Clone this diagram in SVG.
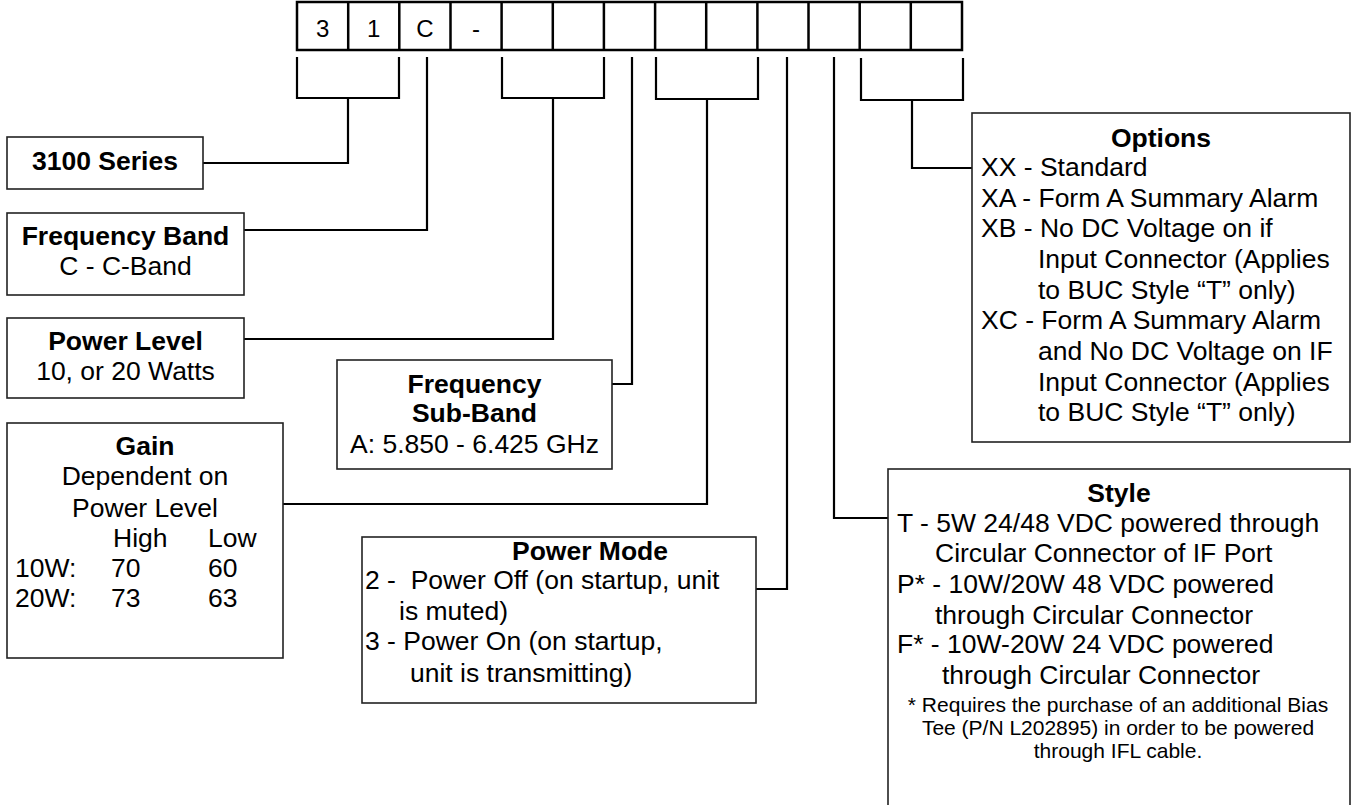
<svg xmlns="http://www.w3.org/2000/svg" width="1353" height="805" viewBox="0 0 1353 805">
<style>
text{font-family:"Liberation Sans",Arial,sans-serif;font-size:26.5px;fill:#000}
.b{font-weight:bold}
.c{text-anchor:middle}
.cell{font-size:24px;text-anchor:middle}
.fn{font-size:21px;text-anchor:middle}
.box{fill:#fff;stroke:#222;stroke-width:1.6}
.cells{fill:none;stroke:#000;stroke-width:2.5}
.con path{fill:none;stroke:#000;stroke-width:2.2}
</style>
<rect width="1353" height="805" fill="#fff"/>
<g id="code">
<rect class="cells" x="297" y="2" width="665" height="48"/>
<path class="cells" d="M348.2,2V50M399.3,2V50M450.5,2V50M501.6,2V50M552.8,2V50M603.9,2V50M655.1,2V50M706.2,2V50M757.4,2V50M808.5,2V50M859.7,2V50M910.8,2V50"/>
<text class="cell" x="322.6" y="37">3</text>
<text class="cell" x="373.7" y="37">1</text>
<text class="cell" x="424.9" y="37">C</text>
<text class="cell" x="476" y="37">-</text>
</g>
<g class="con" id="connectors">
<path d="M297,57V98H399V57M348,98V163H203"/>
<path d="M427,57V230H244"/>
<path d="M502,57V98H604V57M553,98V339H244"/>
<path d="M632,57V384H612"/>
<path d="M656,57V99H758V57M707,99V504H283"/>
<path d="M787,57V589H756"/>
<path d="M834,57V518H888"/>
<path d="M861,58V100H963V58M912,100V168H972"/>
</g>
<g id="series">
<rect class="box" x="7" y="137" width="196" height="52"/>
<text class="b c" x="105" y="170">3100 Series</text>
</g>
<g id="band">
<rect class="box" x="7" y="213" width="237" height="82"/>
<text class="b c" x="125.5" y="245">Frequency Band</text>
<text class="c" x="125.5" y="275">C - C-Band</text>
</g>
<g id="power-level">
<rect class="box" x="7" y="318" width="237" height="80"/>
<text class="b c" x="125.5" y="350">Power Level</text>
<text class="c" x="125.5" y="380">10, or 20 Watts</text>
</g>
<g id="gain">
<rect class="box" x="7" y="423" width="276" height="235"/>
<text class="b c" x="145" y="455">Gain</text>
<text class="c" x="145" y="485">Dependent on</text>
<text class="c" x="145" y="517">Power Level</text>
<text x="113" y="547">High</text>
<text x="208" y="547">Low</text>
<text x="15" y="577">10W:</text>
<text x="111" y="577">70</text>
<text x="208" y="577">60</text>
<text x="15" y="607">20W:</text>
<text x="111" y="607">73</text>
<text x="208" y="607">63</text>
</g>
<g id="sub-band">
<rect class="box" x="337" y="360" width="275" height="109"/>
<text class="b c" x="474.5" y="393">Frequency</text>
<text class="b c" x="474.5" y="422">Sub-Band</text>
<text class="c" x="474.5" y="453">A: 5.850 - 6.425 GHz</text>
</g>
<g id="power-mode">
<rect class="box" x="362" y="537" width="394" height="166"/>
<text class="b c" x="590" y="560">Power Mode</text>
<text x="365" y="589" xml:space="preserve">2 -  Power Off (on startup, unit</text>
<text x="399" y="620">is muted)</text>
<text x="365" y="650">3 - Power On (on startup,</text>
<text x="410" y="682">unit is transmitting)</text>
</g>
<g id="options">
<rect class="box" x="972" y="113" width="378" height="329"/>
<text class="b c" x="1161" y="147">Options</text>
<text x="981" y="176">XX - Standard</text>
<text x="981" y="207">XA - Form A Summary Alarm</text>
<text x="981" y="237">XB - No DC Voltage on if</text>
<text x="1038" y="268">Input Connector (Applies</text>
<text x="1038" y="299">to BUC Style “T” only)</text>
<text x="981" y="329">XC - Form A Summary Alarm</text>
<text x="1038" y="360">and No DC Voltage on IF</text>
<text x="1038" y="391">Input Connector (Applies</text>
<text x="1038" y="421">to BUC Style “T” only)</text>
</g>
<g id="style">
<rect class="box" x="888" y="469" width="462" height="360"/>
<text class="b c" x="1119" y="502">Style</text>
<text x="897" y="532">T - 5W 24/48 VDC powered through</text>
<text x="935" y="562">Circular Connector of IF Port</text>
<text x="897" y="593">P* - 10W/20W 48 VDC powered</text>
<text x="935" y="624">through Circular Connector</text>
<text x="897" y="653">F* - 10W-20W 24 VDC powered</text>
<text x="942" y="684">through Circular Connector</text>
<text class="fn" x="1118" y="712">* Requires the purchase of an additional Bias</text>
<text class="fn" x="1118" y="735">Tee (P/N L202895) in order to be powered</text>
<text class="fn" x="1118" y="758">through IFL cable.</text>
</g>
</svg>
